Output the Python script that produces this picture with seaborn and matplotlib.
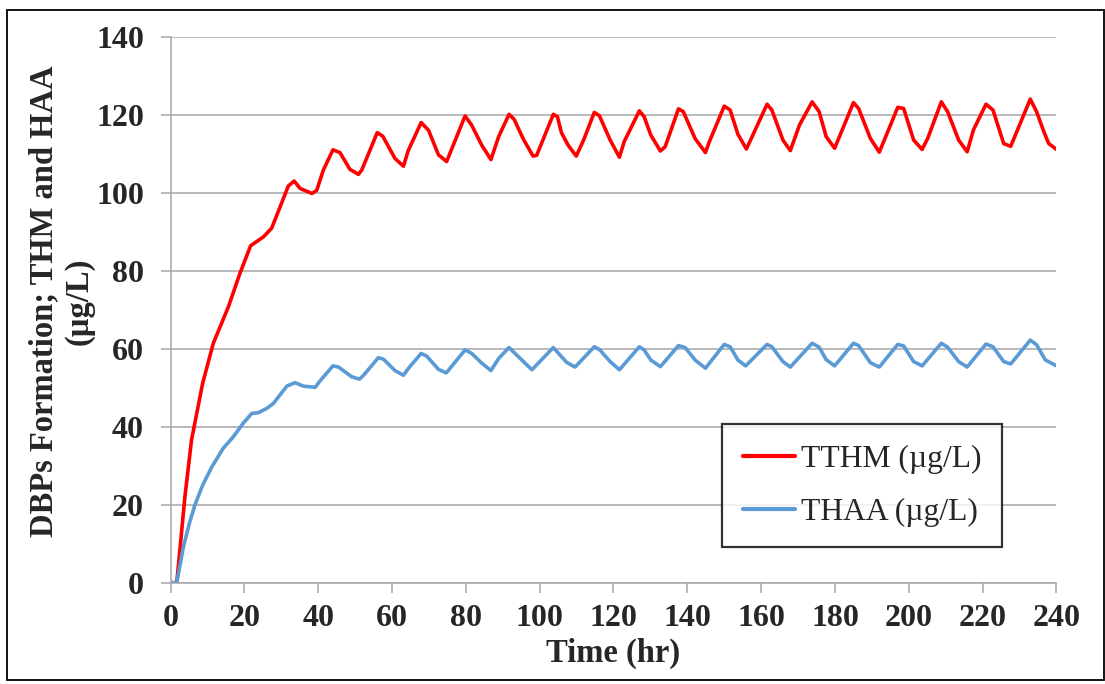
import matplotlib
matplotlib.use('Agg')
import matplotlib.pyplot as plt
import seaborn as sns
import pandas as pd
from matplotlib.patches import Rectangle

# ---- data (time in hr, concentration in ug/L) ----
tthm_time = [0, 1.7, 3.9, 5.7, 8.7, 11.6, 15.7, 18.8, 21.7, 25.2, 27.4, 29.7, 31.9, 33.5,
             35.1, 38.3, 39.6, 41.4, 44, 45.9, 48.6, 50.9, 51.8, 56, 57.5, 60.8, 63.1, 64.4,
             67.9, 69.9, 72.6, 74.8, 79.8, 81.6, 84.3, 86.8, 88.9, 91.7, 93.1, 95.6, 98.2,
             99.2, 103.7, 104.8, 105.9, 107.7, 109.9, 111.9, 114.8, 116.2, 119.1, 121.6,
             122.9, 127, 128.3, 130.1, 132.7, 134, 137.6, 138.9, 142.1, 144.9, 145.8, 150,
             151.6, 153.7, 156, 161.6, 162.9, 165.9, 167.9, 170.4, 173.8, 175.7, 177.6,
             179.9, 185, 186.4, 189.6, 192, 194.1, 197, 198.6, 201.3, 203.6, 205.1, 208.8,
             210.5, 213.5, 215.8, 217.5, 220.9, 222.8, 225.7, 227.6, 232.9, 234.6, 236.6,
             237.9, 240]
tthm = [0, 0, 22, 36.6, 51.1, 61.4, 70.8, 79.3, 86.4, 88.7, 90.9, 96.4, 101.7, 103,
        101.1, 99.8, 100.6, 105.8, 111, 110.3, 106, 104.7, 105.8, 115.4, 114.5, 108.8, 106.8, 110.8,
        118, 116, 109.7, 108, 119.7, 117.3, 112.2, 108.5, 114.4, 120.1, 118.8, 113.7, 109.4,
        109.6, 120.1, 119.5, 115.4, 112.2, 109.4, 113.5, 120.6, 119.7, 113.5, 109.1,
        113.1, 121, 119.5, 114.8, 110.7, 111.8, 121.5, 120.8, 113.9, 110.3, 112.7, 122.2,
        121.2, 115, 111.2, 122.7, 121.2, 113.5, 110.8, 117.4, 123.3, 120.8, 114.4,
        111.4, 123.1, 121.6, 113.9, 110.4, 115.2, 121.9, 121.6, 113.5, 111.1, 113.9, 123.3,
        120.8, 113.5, 110.5, 116.1, 122.7, 121.2, 112.6, 111.9, 124, 120.8, 115.6,
        112.6, 111.1]

thaa_time = [0, 1.7, 3.5, 5.1, 6.6, 8.7, 11.2, 14.3, 17, 19.7, 22, 23.8, 26.1, 27.9, 31.5,
             33.7, 36, 39.2, 40.3, 44, 45.5, 49.1, 51.2, 52.3, 56.3, 57.7, 60.8, 63.1, 64.4,
             67.9, 69.4, 72.6, 74.7, 79.8, 81.6, 84.3, 86.8, 88.9, 91.7, 95.6, 97.9, 103.7,
             107.3, 109.6, 114.8, 116.2, 119.1, 121.6, 127, 128.3, 130.1, 132.7, 137.6, 139.4,
             142.1, 144.9, 150, 151.6, 153.7, 155.8, 161.6, 162.9, 165.9, 167.9, 173.8, 175.7,
             177.6, 179.9, 185, 186.4, 189.6, 192, 197, 198.6, 201.3, 203.6, 208.8, 210.5,
             213.5, 215.8, 220.9, 222.8, 225.7, 227.6, 232.9, 234.6, 237, 240]
thaa = [0, 0, 9.2, 15.2, 19.9, 25, 29.7, 34.5, 37.4, 40.9, 43.4, 43.6, 44.7, 46, 50.4,
        51.3, 50.4, 50.1, 51.5, 55.6, 55.3, 52.8, 52.2, 53.2, 57.7, 57.3, 54.4, 53.2, 54.9,
        58.8, 58.1, 54.7, 53.8, 59.7, 58.8, 56.3, 54.4, 57.5, 60.3, 56.7, 54.6, 60.3,
        56.5, 55.3, 60.5, 59.8, 56.7, 54.6, 60.5, 59.7, 57.1, 55.4, 60.8, 60.3,
        57.1, 55, 61.1, 60.5, 57.1, 55.6, 61.1, 60.5, 56.7, 55.3, 61.4, 60.4,
        57.2, 55.6, 61.4, 60.8, 56.4, 55.3, 61.1, 60.7, 56.7, 55.6, 61.4, 60.4,
        56.7, 55.3, 61.2, 60.5, 56.7, 56.1, 62.2, 61, 57.1, 55.6]

series_names = ['TTHM (\u00b5g/L)', 'THAA (\u00b5g/L)']
series_colors = ['#FF0000', '#5B9BD5']

df = pd.concat([
    pd.DataFrame({'time': tthm_time, 'conc': tthm, 'series': series_names[0]}),
    pd.DataFrame({'time': thaa_time, 'conc': thaa, 'series': series_names[1]}),
])

sns.set_style('white')
plt.rcParams['font.family'] = ['Liberation Serif', 'DejaVu Serif']

fig = plt.figure(figsize=(11.05, 6.84), dpi=100)
ax = fig.add_axes([0.1543, 0.1481, 0.8018, 0.7982])

sns.lineplot(data=df, x='time', y='conc', hue='series', estimator=None, sort=True,
             palette=dict(zip(series_names, series_colors)), linewidth=2.6,
             legend=False, ax=ax, solid_joinstyle='round', solid_capstyle='round')

ax.set_xlim(0, 240)
ax.set_ylim(0, 140)
ax.set_xticks(range(0, 241, 20))
ax.set_yticks(range(0, 141, 20))

grey = '#A6A6A6'
ax.grid(axis='y', color=grey, linewidth=1.1)
ax.grid(axis='x', visible=False)
for side in ['top', 'right']:
    ax.spines[side].set_visible(False)
for side in ['left', 'bottom']:
    ax.spines[side].set_color(grey)
    ax.spines[side].set_linewidth(1.1)

ax.tick_params(axis='both', direction='out', length=7, width=1.1, color=grey,
               labelsize=23, left=True, bottom=True)
ax.tick_params(axis='y', pad=12)
ax.tick_params(axis='x', pad=8)
for lab in ax.get_xticklabels() + ax.get_yticklabels():
    lab.set_fontweight('bold')

ax.set_xlabel('Time (hr)', fontsize=23.5, fontweight='bold', labelpad=4)
ax.set_ylabel('DBPs Formation; THM and HAA\n(\u00b5g/L)', fontsize=23.5,
              fontweight='bold', linespacing=1.15)
ax.yaxis.set_label_coords(-0.123, 0.515)
ax.yaxis.label.set_va('center')

# legend with black square frame
handles = ax.get_lines()[:2]
leg = ax.legend(handles, series_names, loc='upper left',
                bbox_to_anchor=(0.6225, 0.2907), borderaxespad=0,
                fontsize=22.8, frameon=True, fancybox=False, edgecolor='black',
                handlelength=1.65, handletextpad=0.2, borderpad=0.65,
                labelspacing=0.75)
leg.get_frame().set_linewidth(1.6)
for l in leg.get_lines():
    l.set_linewidth(3)

# outer frame of the picture
fig.patches.append(Rectangle((0.0065, 0.006), 0.9925, 0.9795, transform=fig.transFigure,
                             fill=False, edgecolor='black', linewidth=1.3))

fig.savefig('out.png', dpi=100)
